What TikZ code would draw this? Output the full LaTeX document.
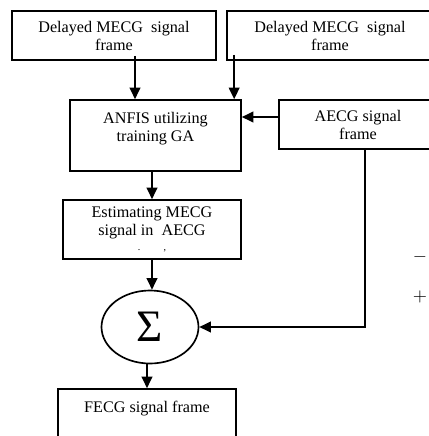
\documentclass[tikz,border=0pt]{standalone}
\usepackage{fontspec}
\setmainfont{Liberation Serif}
\usetikzlibrary{arrows.meta,shapes.geometric}
\tikzset{
  blk/.style={draw,line width=1pt,rectangle,align=center,inner sep=2pt,font=\fontsize{9.7}{10.8}\selectfont},
  arr/.style={line width=1pt,-{Triangle[length=7pt,width=6.5pt]}}
}
\begin{document}
\begin{tikzpicture}[x=0.6pt,y=-0.6pt]
\useasboundingbox (0,0) rectangle (429,436);

\node[blk,minimum width=122.4pt,minimum height=29.4pt] (mecga) at (114,35.5){Delayed MECG~ signal\\frame};%first delayed input
\node[blk,minimum width=123.6pt,minimum height=29.4pt] (mecgb) at (330,35.5){Delayed MECG~ signal\\frame};%second delayed input

\node[blk,minimum width=102.6pt,minimum height=42.6pt] (anfis) at (155.5,135.5){ANFIS utilizing\\training GA\\ \mbox{}};
\node[blk,minimum width=94.8pt,minimum height=29.4pt] (aecg) at (358,124.5){AECG signal\\frame};

\node[blk,minimum width=106.8pt,minimum height=35.4pt] (est) at (152,229.5){Estimating MECG\\signal in~ AECG\\[-2pt]{\fontsize{6}{6}\selectfont .\hspace{14pt},}};
\node[draw,line width=1pt,ellipse,minimum width=58.2pt,minimum height=43.8pt,inner sep=0pt,font=\fontsize{27}{27}\selectfont] (sum) at (150,327){Σ};
\node[blk,minimum width=106.8pt,minimum height=32.4pt] (fecg) at (147,416){FECG signal frame\\ \mbox{}};

\node[font=\fontsize{11}{12}\selectfont] (minus) at (420,257){$-$};
\node[font=\fontsize{11}{12}\selectfont] (plus) at (420,297){$+$};

\draw[arr] ([xshift=12.6pt,yshift=3pt]mecga.south) coordinate (ta) -- (ta |- anfis.north);
\draw[arr] ([xshift=4.8pt,yshift=3.6pt]mecgb.south west) coordinate (tb) -- (tb |- anfis.north);
\draw[arr] ([yshift=4.5pt]aecg.west) -- ([yshift=4.5pt]aecg.west -| anfis.east); %AECG in
\draw[arr] ([xshift=4.2pt]aecg.south) |- (sum.east); %AECG till summan
\draw[arr] (est.north |- anfis.south) -- (est.north);
\draw[arr] (est.south) -- (est.south |- sum.north);
\draw[arr] (fecg.north |- sum.south) -- (fecg.north);

\end{tikzpicture}
\end{document}
